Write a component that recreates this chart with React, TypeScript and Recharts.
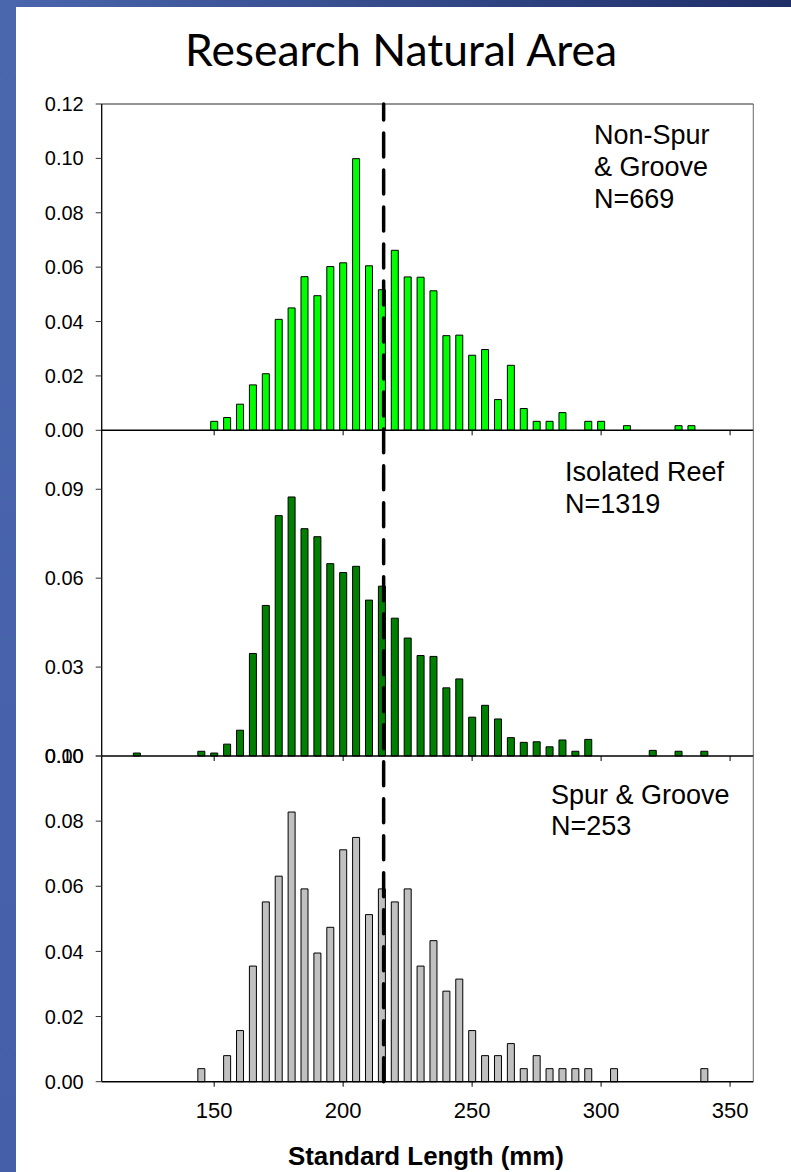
import { BarChart, Bar, XAxis, YAxis, ReferenceLine } from 'recharts'

// bin centres (mm) and proportions
const nonSpurBins = [150, 155, 160, 165, 170, 175, 180, 185, 190, 195, 200, 205, 210, 215, 220, 225, 230, 235, 240, 245, 250, 255, 260, 265, 270, 275, 280, 285, 295, 300, 310, 330, 335]
const nonSpurValues = [0.0033, 0.0047, 0.0096, 0.0167, 0.0208, 0.0408, 0.045, 0.0565, 0.0495, 0.0602, 0.0616, 0.0999, 0.0605, 0.0517, 0.0662, 0.0564, 0.0563, 0.0513, 0.0348, 0.035, 0.0276, 0.0297, 0.0113, 0.0239, 0.008, 0.0033, 0.0033, 0.0065, 0.0033, 0.0033, 0.0017, 0.0017, 0.0017]

const isolatedBins = [120, 145, 150, 155, 160, 165, 170, 175, 180, 185, 190, 195, 200, 205, 210, 215, 220, 225, 230, 235, 240, 245, 250, 255, 260, 265, 270, 275, 280, 285, 290, 295, 320, 330, 340]
const isolatedValues = [0.001, 0.0016, 0.001, 0.004, 0.0087, 0.0346, 0.0508, 0.0811, 0.0874, 0.0767, 0.074, 0.0649, 0.0619, 0.064, 0.0526, 0.0573, 0.0465, 0.0398, 0.0339, 0.0336, 0.023, 0.026, 0.0131, 0.0171, 0.0125, 0.0062, 0.0046, 0.0048, 0.0031, 0.0054, 0.0016, 0.0056, 0.0019, 0.0016, 0.0016]

const spurBins = [145, 155, 160, 165, 170, 175, 180, 185, 190, 195, 200, 205, 210, 215, 220, 225, 230, 235, 240, 245, 250, 255, 260, 265, 270, 275, 280, 285, 290, 295, 305, 340]
const spurValues = [0.004, 0.008, 0.0157, 0.0355, 0.0552, 0.0631, 0.0828, 0.0592, 0.0395, 0.0474, 0.0712, 0.075, 0.0513, 0.0592, 0.0552, 0.0592, 0.0355, 0.0433, 0.0278, 0.0315, 0.0157, 0.008, 0.008, 0.0117, 0.004, 0.008, 0.004, 0.004, 0.004, 0.004, 0.004, 0.004]

const xTicks = [150, 200, 250, 300, 350]
const xDomain = [106.4, 359]
const meanLength = 215.7

const ticks1 = [0, 0.02, 0.04, 0.06, 0.08, 0.1, 0.12]
const ticks2 = [0, 0.03, 0.06, 0.09]
const ticks3 = [0, 0.02, 0.04, 0.06, 0.08, 0.1]

const toRows = (bins: number[], vals: number[]) => bins.map((x, i) => ({ x, v: vals[i] }))

const FONT = '"Liberation Sans", Arial, sans-serif'

interface PanelProps {
  top: number
  plotH: number
  axisH: number
  rows: { x: number; v: number }[]
  fill: string
  yMax: number
  yTicks: number[]
  labels: boolean
  dashOffset: number
  topBorder?: boolean
}

function Panel({ top, plotH, axisH, rows, fill, yMax, yTicks, labels, dashOffset, topBorder }: PanelProps) {
  return (
    <div style={{ position: 'absolute', left: 0, top: top - 10 }}>
      <BarChart
        width={791}
        height={plotH + 10 + axisH}
        data={rows}
        margin={{ top: 10, right: 37.7, bottom: 0, left: 11.7 }}
        barSize={7}
      >
        <XAxis
          type="number"
          dataKey="x"
          domain={xDomain}
          ticks={xTicks}
          allowDataOverflow
          interval={0}
          height={axisH}
          tickSize={5}
          tickMargin={16}
          axisLine={{ stroke: '#000', strokeWidth: 1.5 }}
          tickLine={{ stroke: '#000' }}
          tick={{ fill: '#000', fontSize: 22, fontFamily: FONT }}
          tickFormatter={(v) => (labels ? String(v) : '')}
        />
        <YAxis
          domain={[0, yMax]}
          ticks={yTicks}
          interval={0}
          width={90}
          tickSize={6}
          tickMargin={12}
          axisLine={{ stroke: '#000', strokeWidth: 1.3 }}
          tickLine={{ stroke: '#333' }}
          tick={{ fill: '#000', fontSize: 20, fontFamily: FONT }}
          tickFormatter={(v) => Number(v).toFixed(2)}
        />
        {topBorder && <ReferenceLine y={yMax} stroke="#707070" strokeWidth={1.5} />}
        <ReferenceLine x={xDomain[1]} stroke="#666" strokeWidth={1} />
        <Bar dataKey="v" fill={fill} stroke="#000" strokeWidth={1} isAnimationActive={false} />
        <ReferenceLine
          x={meanLength}
          stroke="#000"
          strokeWidth={3.5}
          strokeDasharray="24 13"
          strokeDashoffset={dashOffset}
          strokeLinecap="round"
        />
      </BarChart>
    </div>
  )
}

export default function App() {
  return (
    <div style={{ position: 'absolute', left: 0, top: 0, width: 791, height: 1172, background: '#fff', overflow: 'hidden' }}>
      <div style={{ position: 'absolute', left: 0, top: 0, width: 791, height: 7, background: 'linear-gradient(to right, #4a66ad, #1f2f68)' }} />
      <div style={{ position: 'absolute', left: 0, top: 0, width: 16, height: 1172, background: 'linear-gradient(to bottom, #4a66ad, #4560a8)' }} />

      <Panel top={103.7} plotH={326.3} axisH={10} rows={toRows(nonSpurBins, nonSpurValues)} fill="#00ff00" yMax={0.12} yTicks={ticks1} labels={false} dashOffset={22.7} topBorder />
      <Panel top={430} plotH={326} axisH={10} rows={toRows(isolatedBins, isolatedValues)} fill="#008000" yMax={0.11} yTicks={ticks2} labels={false} dashOffset={29.7} />
      <Panel top={756} plotH={325.7} axisH={56} rows={toRows(spurBins, spurValues)} fill="#c0c0c0" yMax={0.1} yTicks={ticks3} labels dashOffset={0} />

      <svg width={791} height={1172} style={{ position: 'absolute', left: 0, top: 0, pointerEvents: 'none' }}>
        <text x={401} y={66} textAnchor="middle" fontFamily="Lato, 'Open Sans', sans-serif" fontSize={44} textLength={432} lengthAdjust="spacingAndGlyphs" fill="#000">
          Research Natural Area
        </text>
        <g fontFamily={FONT} fontSize={27} fill="#000">
          <text x={594} y={144}>Non-Spur</text>
          <text x={594} y={176}>&amp; Groove</text>
          <text x={594} y={208}>N=669</text>
          <text x={565} y={481}>Isolated Reef</text>
          <text x={565} y={513}>N=1319</text>
          <text x={551} y={804}>Spur &amp; Groove</text>
          <text x={551} y={835}>N=253</text>
        </g>
        <text x={426} y={1165} textAnchor="middle" fontFamily={FONT} fontSize={25} fontWeight="bold" textLength={276} lengthAdjust="spacingAndGlyphs" fill="#000">
          Standard Length (mm)
        </text>
      </svg>
    </div>
  )
}
